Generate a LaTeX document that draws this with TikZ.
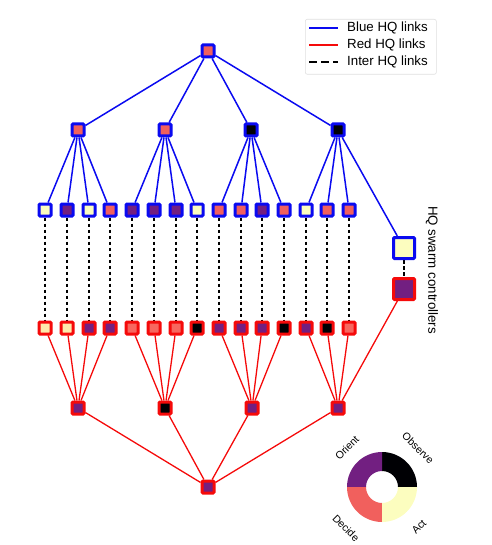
\documentclass[tikz,border=0pt]{standalone}
\usepackage{fontspec}
\setmainfont{Liberation Sans}
\usetikzlibrary{backgrounds}
\definecolor{mblk}{HTML}{000004}
\definecolor{mpur}{HTML}{721F81}
\definecolor{msal}{HTML}{F1605D}
\definecolor{mcre}{HTML}{FCFDBF}
\definecolor{rcre}{HTML}{FEEBAC}
\definecolor{rsal}{HTML}{F7675F}
\definecolor{hqblue}{HTML}{0A0AF0}
\definecolor{hqred}{HTML}{F50A0A}
\begin{document}
\begin{tikzpicture}[x=1pt,y=-1pt,
  bq/.style={draw=hqblue,line width=3pt,minimum size=12pt,inner sep=0pt,rounded corners=1pt},
  rq/.style={draw=hqred,line width=3pt,minimum size=12pt,inner sep=0pt,rounded corners=1pt},
  bigq/.style={minimum size=21pt},
  bl/.style={hqblue,line width=1.5pt},
  rl/.style={hqred,line width=1.3pt},
  il/.style={black,line width=1.4pt,dash pattern=on 3.5pt off 2.5pt},
  lab/.style={font=\fontsize{13.3}{15}\selectfont,inner sep=0pt},
  olab/.style={font=\fontsize{10.5}{12}\selectfont,inner sep=0pt}
]
\useasboundingbox (0,0) rectangle (491,545);

% legend
\node[draw=gray!25,line width=0.6pt,rounded corners=2pt,minimum width=131pt,minimum height=55pt,anchor=north west,inner sep=0pt] (legend) at (305,19) {};
\coordinate (lb1) at (309,28); \coordinate (lb2) at (338,28);
\coordinate (lr1) at (309,45); \coordinate (lr2) at (338,45);
\coordinate (li1) at (309,62); \coordinate (li2) at (338,62);
\draw[hqblue,line width=2.2pt] (lb1) -- (lb2);
\draw[hqred,line width=2.2pt] (lr1) -- (lr2);
\draw[black,line width=2.2pt,dash pattern=on 8pt off 4pt] (li1) -- (li2);
\node[lab,anchor=west] (tb) at (347,28) {Blue HQ links};
\node[lab,anchor=west] (tr) at (347,45) {Red HQ links};
\node[lab,anchor=west] (ti) at (347,62) {Inter HQ links};

% blue hierarchy
\node[bq,fill=msal] (b0) at (208,51) {};
\node[bq,fill=msal] (b1) at (78,130) {};
\node[bq,fill=msal] (b2) at (165,130) {};
\node[bq,fill=mblk] (b3) at (251,130) {};
\node[bq,fill=mblk] (b4) at (338,130) {};

% red hierarchy
\node[rq,fill=mpur] (r0) at (208,487) {};
\node[rq,fill=mpur] (r1) at (78,408) {};
\node[rq,fill=mblk] (r2) at (165,408) {};
\node[rq,fill=mpur] (r3) at (252,408) {};
\node[rq,fill=mpur] (r4) at (338,408) {};

% leaf rows
\foreach \x/\cb/\cr/\g [count=\i] in {
  45/mcre/rcre/1, 67/mpur/rcre/1, 89/mcre/mpur/1, 110/msal/mpur/1,
  132/mpur/rsal/2, 154/mpur/rsal/2, 176/mpur/rsal/2, 197/mcre/mblk/2,
  219/msal/mpur/3, 241/msal/mpur/3, 262/mpur/mpur/3, 284/msal/mblk/3,
  306/mcre/mpur/4, 327/msal/mblk/4, 349/msal/rsal/4} {
  \node[bq,fill=\cb] (u\i) at (\x,210) {};
  \node[rq,fill=\cr] (l\i) at (\x,328) {};
  \begin{pgfonlayer}{background}
    \draw[bl] (b\g) -- (u\i);
    \draw[rl] (r\g) -- (l\i);
    \draw[il] (u\i) -- (l\i);
  \end{pgfonlayer}
}

% swarm controllers
\node[bq,bigq,fill=mcre] (sb) at (404,248) {};
\node[rq,bigq,fill=mpur] (sr) at (404,289) {};
\node[lab,rotate=-90] (swl) at (432,270) {HQ swarm controllers};

\begin{pgfonlayer}{background}
  \foreach \j in {1,2,3,4} {
    \draw[bl] (b0) -- (b\j);
    \draw[rl] (r0) -- (r\j);
  }
  \draw[bl] (b4) -- (sb);
  \draw[rl] (r4) -- (sr);
  \draw[il] (sb) -- (sr);
\end{pgfonlayer}

% OODA donut
\begin{scope}[shift={(382,487)},yscale=-1]
  \fill[mblk] (0:16) -- (0:35) arc[start angle=0,end angle=90,radius=35] -- (90:16) arc[start angle=90,end angle=0,radius=16] -- cycle;
  \fill[mpur] (90:16) -- (90:35) arc[start angle=90,end angle=180,radius=35] -- (180:16) arc[start angle=180,end angle=90,radius=16] -- cycle;
  \fill[msal] (180:16) -- (180:35) arc[start angle=180,end angle=270,radius=35] -- (270:16) arc[start angle=270,end angle=180,radius=16] -- cycle;
  \fill[mcre] (270:16) -- (270:35) arc[start angle=270,end angle=360,radius=35] -- (360:16) arc[start angle=360,end angle=270,radius=16] -- cycle;
\end{scope}
\node[olab,rotate=45] (oo) at (347,448) {Orient};
\node[olab,rotate=-45] (ob) at (418,448) {Observe};
\node[olab,rotate=-45] (od) at (346,528) {Decide};
\node[olab,rotate=45] (oa) at (419,527) {Act};
\end{tikzpicture}
\end{document}
